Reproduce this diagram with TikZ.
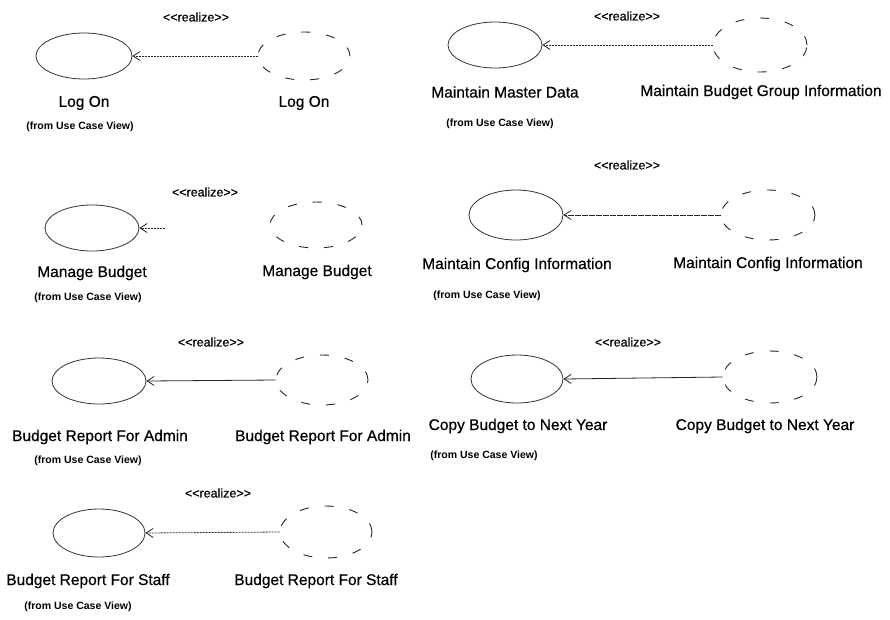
\documentclass[tikz,border=0pt]{standalone}
\usepackage{fontspec}
\setmainfont{Liberation Sans}[Ligatures=NoCommon]
\newfontfamily\heavyfont{Liberation Sans}[FakeBold=0.6]
\usetikzlibrary{shapes.geometric,arrows.meta}
\tikzset{
  uc/.style={ellipse,draw=black!80,line width=0.8pt,inner sep=0pt},
  ucr/.style={ellipse,draw=black!85,line width=0.9pt,dash pattern=on 9pt off 16pt,inner sep=0pt},
  lbl/.style={font=\heavyfont\fontsize{15.5}{17}\selectfont,inner sep=0pt},
  rlz/.style={font=\heavyfont\fontsize{12.5}{14}\selectfont,inner sep=0pt},
  frm/.style={font=\fontsize{10.5}{12}\selectfont\bfseries,inner sep=0pt},
  dep/.style={draw=black!85,line width=0.8pt,-{Straight Barb[length=7pt,width=9pt]}},
  dotdep/.style={dep,dash pattern=on 2pt off 1pt},
  dashdep/.style={dep,dash pattern=on 6pt off 1pt}
}
\newcommand{\rlztext}{{<}{<}realize{>}{>}}
\begin{document}
\begin{tikzpicture}[x=1pt,y=-1pt]
\useasboundingbox (0,0) rectangle (890,619);
% Group 1: Log On
\node[uc,minimum width=96,minimum height=46] (l1) at (84,56) {};
\node[ucr,minimum width=92,minimum height=48] (r1) at (304,56) {};
\node[rlz] (s1) at (196,17) {\rlztext};
\node[lbl] (t1a) at (84,103) {Log On};
\node[lbl] (t1b) at (304,103) {Log On};
\node[frm] (f1) at (80,127) {(from Use Case View)};
\draw[dotdep] (r1.west) -- (l1.east);
% Group 2: Maintain Master Data
\node[uc,minimum width=94,minimum height=46] (l2) at (495,45) {};
\node[ucr,minimum width=94,minimum height=54] (r2) at (760,45) {};
\node[rlz] (s2) at (627,16) {\rlztext};
\node[lbl] (t2a) at (505,92) {Maintain Master Data};
\node[lbl] (t2b) at (761,92) {Maintain Budget Group Information};
\node[frm] (f2) at (500,124) {(from Use Case View)};
\draw[dotdep] (r2.west) -- (l2.east);
% Group 3: Manage Budget
\node[uc,minimum width=94,minimum height=46] (l3) at (92,228) {};
\node[ucr,minimum width=92,minimum height=46] (r3) at (316,225) {};
\node[rlz] (s3) at (205,192) {\rlztext};
\node[lbl] (t3a) at (92,273) {Manage Budget};
\node[lbl] (t3b) at (317,272) {Manage Budget};
\node[frm] (f3) at (88,298) {(from Use Case View)};
\coordinate (c3) at (165,228);
\draw[dotdep] (c3) -- (l3.east);
% Group 4: Maintain Config Information
\node[uc,minimum width=94,minimum height=50] (l4) at (516,215) {};
\node[ucr,minimum width=94,minimum height=50] (r4) at (768,215) {};
\node[rlz] (s4) at (627,165) {\rlztext};
\node[lbl] (t4a) at (517,265) {Maintain Config Information};
\node[lbl] (t4b) at (768,264) {Maintain Config Information};
\node[frm] (f4) at (487,296) {(from Use Case View)};
\draw[dashdep] (r4.west) -- (l4.east);
% Group 5: Budget Report For Admin
\node[uc,minimum width=94,minimum height=46] (l5) at (99,381) {};
\node[ucr,minimum width=92,minimum height=50] (r5) at (322,380) {};
\node[rlz] (s5) at (211,342) {\rlztext};
\node[lbl] (t5a) at (100,437) {Budget Report For Admin};
\node[lbl] (t5b) at (323,437) {Budget Report For Admin};
\node[frm] (f5) at (88,461) {(from Use Case View)};
\draw[dep] (r5.west) -- (l5.east);
% Group 6: Copy Budget to Next Year
\node[uc,minimum width=92,minimum height=48] (l6) at (517,379) {};
\node[ucr,minimum width=94,minimum height=52] (r6) at (770,377) {};
\node[rlz] (s6) at (628,342) {\rlztext};
\node[lbl] (t6a) at (518,426) {Copy Budget to Next Year};
\node[lbl] (t6b) at (765,426) {Copy Budget to Next Year};
\node[frm] (f6) at (484,456) {(from Use Case View)};
\draw[dep] (r6.west) -- (l6.east);
% Group 7: Budget Report For Staff
\node[uc,minimum width=92,minimum height=48] (l7) at (99,533) {};
\node[ucr,minimum width=92,minimum height=52] (r7) at (326,532) {};
\node[rlz] (s7) at (218,493) {\rlztext};
\node[lbl] (t7a) at (88,581) {Budget Report For Staff};
\node[lbl] (t7b) at (316,581) {Budget Report For Staff};
\node[frm] (f7) at (78,607) {(from Use Case View)};
\draw[dotdep] (r7.west) -- (l7.east);
\end{tikzpicture}
\end{document}
